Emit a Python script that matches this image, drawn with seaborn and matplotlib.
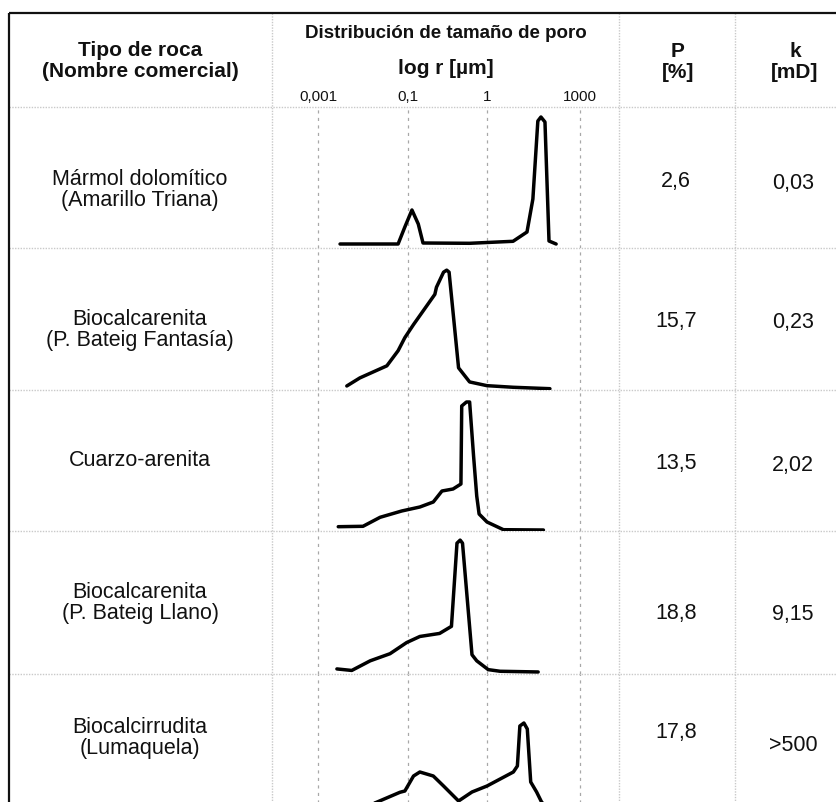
import numpy as np
import pandas as pd
import matplotlib
matplotlib.use("Agg")
import matplotlib.pyplot as plt
import seaborn as sns

# table contents
rock_names = [
    "Mármol dolomítico\n(Amarillo Triana)",
    "Biocalcarenita\n(P. Bateig Fantasía)",
    "Cuarzo-arenita",
    "Biocalcarenita\n(P. Bateig Llano)",
    "Biocalcirrudita\n(Lumaquela)",
]
porosity = ["2,6", "15,7", "13,5", "18,8", "17,8"]
permeability = ["0,03", "0,23", "2,02", "9,15", ">500"]

tick_log_r = [-3, -1, 0, 3]
tick_labels = ["0,001", "0,1", "1", "1000"]

# pore size distributions: log r [um] vs relative frequency
marmol_x = [-2.51, -1.22, -1.07, -0.95, -0.87, -0.81, -0.22, 0.84, 1.29, 1.48, 1.64, 1.74, 1.87, 2.0, 2.23]
marmol_y = [0, 0, 17, 34, 20, 1, 0.7, 2.7, 12, 45, 123, 127, 122, 3, 0]

fantasia_x = [-2.36, -2.07, -1.47, -1.22, -1.07, -0.93, -0.66, -0.64, -0.55, -0.51, -0.48, -0.36, -0.22, 0.0, 0.85, 2.03]
fantasia_y = [0, 8, 20, 35, 48, 61, 91, 98, 113, 115, 113, 18, 4, 0.3, -1.3, -2.7]

cuarzo_x = [-2.55, -2.0, -1.62, -1.14, -0.85, -0.68, -0.57, -0.43, -0.33, -0.32, -0.26, -0.22, -0.17, -0.13, -0.10, 0.0, 0.53, 1.82]
cuarzo_y = [0.3, 0.7, 9.7, 16, 20, 25, 36, 38, 43, 121, 125, 125, 71, 31, 13, 5, -2.7, -3]

llano_x = [-2.58, -2.25, -1.84, -1.4, -1.03, -0.85, -0.6, -0.45, -0.38, -0.34, -0.31, -0.19, -0.13, 0.04, 0.42, 1.65]
llano_y = [1, -0.5, 9, 16, 27, 33, 36, 43, 125, 128, 125, 15, 9, 0.3, -1.3, -2]

lumaquela_x = [-2.2, -1.7, -1.18, -1.07, -0.93, -0.85, -0.68, -0.55, -0.36, -0.19, 0.0, 0.85, 0.98, 1.06, 1.19, 1.3, 1.41, 1.6, 1.76, 2.03]
lumaquela_y = [0, 8.7, 18.7, 20, 35, 39, 35, 25, 10, 19, 25, 39, 45, 85, 88, 82, 29, 19, 9, 0]

curves = [
    (marmol_x, marmol_y),
    (fantasia_x, fantasia_y),
    (cuarzo_x, cuarzo_y),
    (llano_x, llano_y),
    (lumaquela_x, lumaquela_y),
]

# layout (pixels)
W, H = 836, 803
col_edges = [9, 272, 619, 735]
row_edges = [108, 249, 391, 532, 675, 816]
name_y = [190, 330, 461, 603, 738]
p_y = [182, 322, 464, 614, 733]
k_y = [183, 323, 466, 615, 746]

# the printed axis is not a true log scale: tick spacing is uneven
axis_log = [-4.02, -3, -1, 0, 3, 4.26]
axis_pos = [0, 46, 136, 215, 308, 347]


def fwd(v):
    return np.interp(v, axis_log, axis_pos)


def inv(p):
    return np.interp(p, axis_pos, axis_log)


sns.set_theme(style="white")
plt.rcParams["font.family"] = ["Liberation Sans", "DejaVu Sans"]
txt = "#111111"
grid_c = "#c9c9c9"

fig = plt.figure(figsize=(W / 100, H / 100), dpi=100)
bg = fig.add_axes([0, 0, 1, 1])
bg.set_xlim(0, W)
bg.set_ylim(H, 0)
bg.axis("off")

# table lines
for y in row_edges[:-1]:
    bg.plot([col_edges[0], W], [y, y], color=grid_c, lw=1.0, ls=(0, (1, 1)))
for x in col_edges[1:]:
    bg.plot([x, x], [14, H], color=grid_c, lw=1.0, ls=(0, (1, 1)))
bg.plot([col_edges[0], W], [14, 14], color="#111111", lw=1.6, solid_capstyle="butt")
bg.plot([col_edges[0], col_edges[0]], [14, H], color="#111111", lw=1.6, solid_capstyle="butt")

# header
bg.text(140, 61, "Tipo de roca\n(Nombre comercial)", ha="center", va="center",
        fontsize=15, fontweight="bold", color=txt, linespacing=1.08)
bg.text(446, 34, "Distribución de tamaño de poro", ha="center", va="center",
        fontsize=13.5, fontweight="bold", color=txt)
bg.text(446, 69, "log r [µm]", ha="center", va="center",
        fontsize=15, fontweight="bold", color=txt)
bg.text(678, 62, "P\n[%]", ha="center", va="center",
        fontsize=15, fontweight="bold", color=txt, linespacing=1.08)
bg.text(795, 62, "k\n[mD]", ha="center", va="center",
        fontsize=15, fontweight="bold", color=txt, linespacing=1.08)

# rows
for i in range(len(rock_names)):
    bg.text(140, name_y[i], rock_names[i], ha="center", va="center",
            fontsize=15.5, color=txt, linespacing=1.05)
    bg.text(676, p_y[i], porosity[i], ha="center", va="center", fontsize=15.5, color=txt)
    bg.text(793, k_y[i], permeability[i], ha="center", va="center", fontsize=15.5, color=txt)

    top, bot = row_edges[i], row_edges[i + 1]
    ax = fig.add_axes([col_edges[1] / W, 1 - bot / H,
                       (col_edges[2] - col_edges[1]) / W, (bot - top) / H])
    ax.patch.set_alpha(0)
    ax.set_xscale("function", functions=(fwd, inv))
    df = pd.DataFrame({"log_r": curves[i][0], "freq": curves[i][1]})
    sns.lineplot(data=df, x="log_r", y="freq", sort=False, estimator=None,
                 color="black", lw=2.5, ax=ax, solid_joinstyle="round",
                 solid_capstyle="round")
    ax.set_xlim(axis_log[0], axis_log[-1])
    ax.set_ylim(-4, 137)
    ax.set_xticks(tick_log_r)
    ax.grid(axis="x", color="#a8a8a8", lw=0.9, ls=(0, (2.5, 3.5)))
    ax.grid(axis="y", visible=False)
    ax.set_yticks([])
    ax.set_xlabel("")
    ax.set_ylabel("")
    for s in ax.spines.values():
        s.set_visible(False)
    if i == 0:
        ax.xaxis.tick_top()
        ax.set_xticklabels(tick_labels, fontsize=11, color=txt)
        ax.tick_params(axis="x", length=0, pad=3)
    else:
        ax.set_xticklabels([])
        ax.tick_params(axis="x", length=0)

fig.savefig("out.png", dpi=100)
